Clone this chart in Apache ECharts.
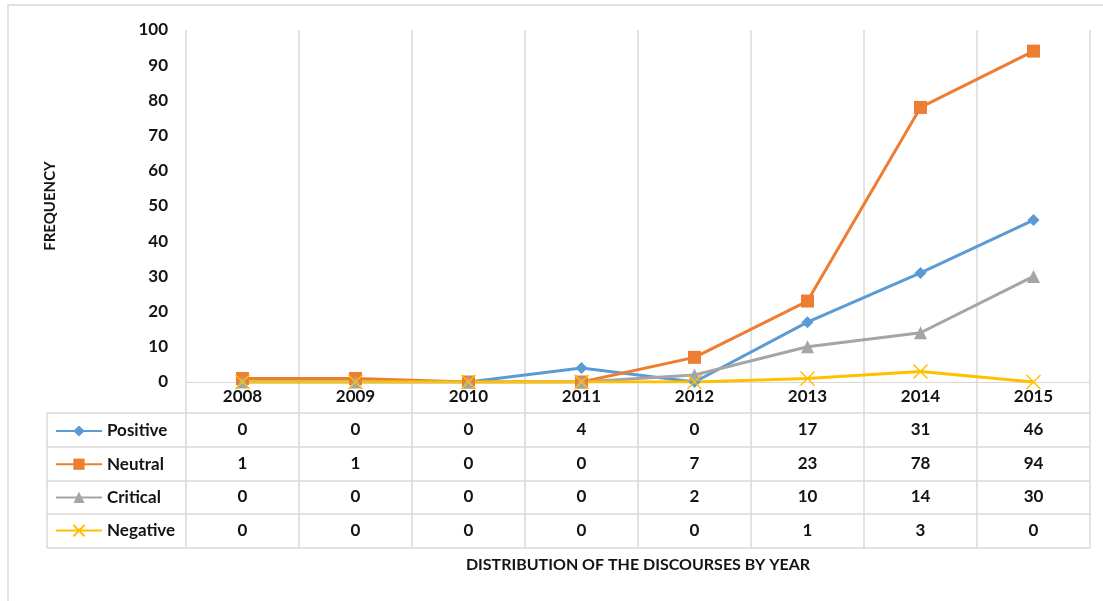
<html>
<head>
  <meta http-equiv="Content-Type" content="text/html; charset=UTF-8">
  <script src="https://cdn.jsdelivr.net/npm/echarts@6/dist/echarts.min.js"></script>
  <style>
    body { margin: 0; background: #fff; }
  </style>
</head>
<body>
  <div id="div_chart" style="width:1103px;height:601px;"></div>
  <script>
    var years = ['2008', '2009', '2010', '2011', '2012', '2013', '2014', '2015'];
    var positive = [0, 0, 0, 4, 0, 17, 31, 46];
    var neutral = [1, 1, 0, 0, 7, 23, 78, 94];
    var critical = [0, 0, 0, 0, 2, 10, 14, 30];
    var negative = [0, 0, 0, 0, 0, 1, 3, 0];
    var yTicks = [0, 10, 20, 30, 40, 50, 60, 70, 80, 90, 100];

    var FONT = 'Lato';
    var TXT = '#141414';
    var LINE = '#d9d9d9';
    // layout of the plot and the data table under it
    var G_LEFT = 186, G_RIGHT = 1090, G_TOP = 30, G_BOTTOM = 382;
    var T_LEFT = 47, T_BOTTOM = 548;
    var rowLines = [413, 447, 481, 514, 548];
    var rowCenters = [430, 464, 497, 531];

    var tableRows = [positive, neutral, critical, negative];

    // extra x axes used as the table's value rows
    var xAxes = [{
      type: 'category',
      data: years,
      boundaryGap: true,
      axisLine: { lineStyle: { color: LINE, width: 1 } },
      axisTick: { show: false },
      splitLine: { show: true, lineStyle: { color: LINE, width: 1.5 } },
      axisLabel: { color: TXT, fontFamily: FONT, fontWeight: 'bold', fontSize: 17, margin: 15, verticalAlign: 'middle' }
    }];
    tableRows.forEach(function (row, r) {
      xAxes.push({
        type: 'category',
        data: years,
        position: 'bottom',
        offset: rowCenters[r] - G_BOTTOM,
        axisLine: { show: false },
        axisTick: { show: false },
        splitLine: { show: false },
        axisLabel: {
          color: TXT, fontFamily: FONT, fontWeight: 'bold', fontSize: 17, margin: 0, verticalAlign: 'middle',
          formatter: function (v, i) { return String(row[i]); }
        }
      });
    });

    // table rules
    var graphics = [];
    graphics.push({ type: 'rect', shape: { x: 8, y: 5, width: 1120, height: 620 }, style: { fill: 'none', stroke: LINE, lineWidth: 1.5 }, silent: true });
    rowLines.forEach(function (y) {
      graphics.push({ type: 'line', shape: { x1: T_LEFT, y1: y, x2: G_RIGHT, y2: y }, style: { stroke: LINE, lineWidth: 1.5 }, silent: true });
    });
    graphics.push({ type: 'line', shape: { x1: T_LEFT, y1: rowLines[0], x2: T_LEFT, y2: T_BOTTOM }, style: { stroke: LINE, lineWidth: 1.5 }, silent: true });
    var cw = (G_RIGHT - G_LEFT) / years.length;
    for (var i = 0; i <= years.length; i++) {
      var x = G_LEFT + i * cw;
      graphics.push({ type: 'line', shape: { x1: x, y1: G_BOTTOM, x2: x, y2: T_BOTTOM }, style: { stroke: LINE, lineWidth: 1.5 }, silent: true });
    }
    graphics.push({
      type: 'text', x: (G_LEFT + G_RIGHT) / 2, y: 565,
      style: { text: 'DISTRIBUTION OF THE DISCOURSES BY YEAR', fill: TXT, font: 'bold 16px ' + FONT, textAlign: 'center', textVerticalAlign: 'middle' },
      silent: true
    });

    function mkSeries(name, data, color, symbol, size, extra) {
      var s = {
        name: name, type: 'line', data: data,
        symbol: symbol, symbolSize: size,
        lineStyle: { color: color, width: 3 },
        itemStyle: { color: color },
        animation: false
      };
      if (extra) { s.itemStyle = extra; }
      return s;
    }

    var myChart = echarts.init(document.getElementById('div_chart'));
    var options = {
      animation: false,
      grid: { left: G_LEFT, right: 1103 - G_RIGHT, top: G_TOP, bottom: 601 - G_BOTTOM },
      legend: {
        orient: 'vertical', left: 50, top: rowCenters[0] - 12.5,
        itemWidth: 46, itemHeight: 14, itemGap: 16.2,
        textStyle: { color: TXT, fontFamily: FONT, fontWeight: 'bold', fontSize: 17 },
        data: ['Positive', 'Neutral', 'Critical', 'Negative']
      },
      xAxis: xAxes,
      yAxis: {
        type: 'value', min: yTicks[0], max: yTicks[yTicks.length - 1], interval: 10,
        name: 'FREQUENCY', nameLocation: 'middle', nameGap: 128, nameRotate: 90,
        nameTextStyle: { color: TXT, fontFamily: FONT, fontWeight: 'bold', fontSize: 15 },
        axisLine: { show: false }, axisTick: { show: false },
        splitLine: { show: false },
        axisLabel: { color: TXT, fontFamily: FONT, fontWeight: 'bold', fontSize: 17, margin: 18 }
      },
      graphic: graphics,
      series: [
        mkSeries('Positive', positive, '#5B9BD5', 'diamond', 12),
        mkSeries('Neutral', neutral, '#ED7D31', 'rect', 13),
        mkSeries('Critical', critical, '#A5A5A5', 'triangle', 13),
        mkSeries('Negative', negative, '#FFC000', 'path://M0,0L10,10M10,0L0,10', 14,
          { color: '#FFC000', borderColor: '#FFC000', borderWidth: 1.5 })
      ]
    };
    myChart.setOption(options);
  </script>
</body>
</html>
